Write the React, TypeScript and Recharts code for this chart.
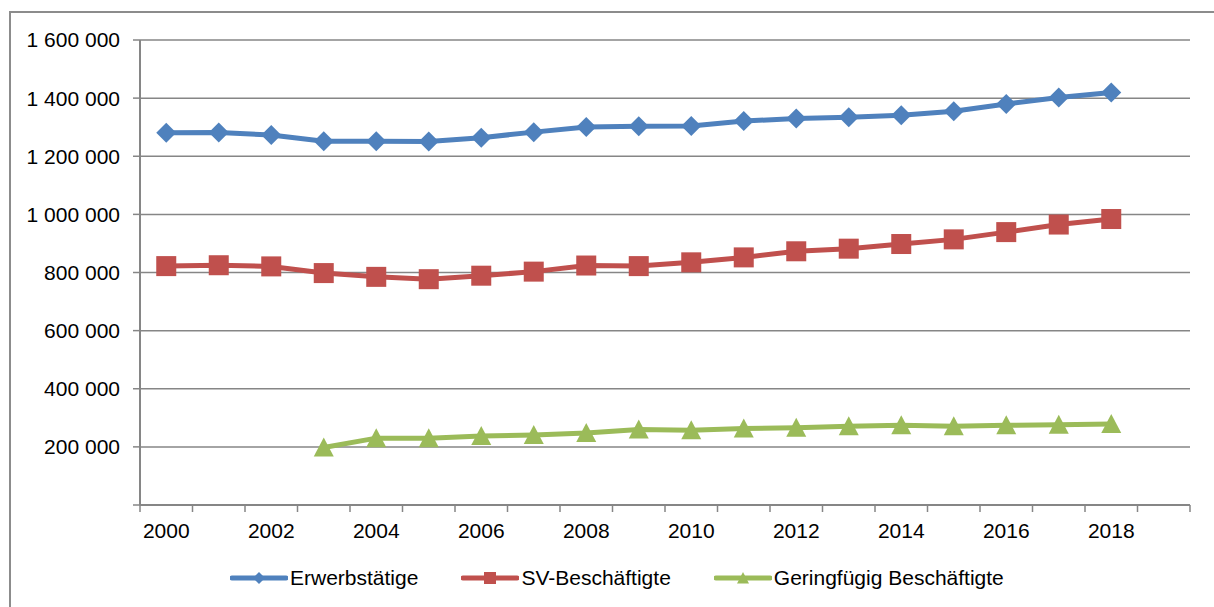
import { LineChart, Line, XAxis, YAxis, CartesianGrid } from 'recharts';

// Jahreswerte 2000–2018
const years = [
  2000, 2001, 2002, 2003, 2004, 2005, 2006, 2007, 2008, 2009,
  2010, 2011, 2012, 2013, 2014, 2015, 2016, 2017, 2018,
];
const erwerbstaetige = [
  1281000, 1282000, 1273000, 1252000, 1252000, 1251000, 1264000, 1283000, 1301000, 1303000,
  1304000, 1321000, 1330000, 1334000, 1341000, 1355000, 1380000, 1402000, 1419000,
];
const svBeschaeftigte = [
  822000, 825000, 821000, 798000, 785000, 777000, 789000, 803000, 824000, 822000,
  835000, 852000, 873000, 882000, 898000, 914000, 939000, 965000, 984000,
];
const geringfuegig = [
  null, null, null, 198000, 230000, 230000, 237000, 241000, 248000, 260000,
  257000, 263000, 266000, 271000, 274000, 271000, 274000, 276000, 279000,
];
const xLabels = ['2000', '2002', '2004', '2006', '2008', '2010', '2012', '2014', '2016', '2018'];
const yTicks = [0, 200000, 400000, 600000, 800000, 1000000, 1200000, 1400000, 1600000];

const COLORS = {
  erwerb: '#4F81BD',
  sv: '#C0504D',
  gering: '#9BBB59',
  axis: '#868686',
  frame: '#8C8C8C',
};

const FONT = 'Arial, "Liberation Sans", sans-serif';
const W = 1214;
const H = 607;
const PLOT_LEFT = 140;
const PLOT_RIGHT = 1190;
const X_START = years[0];
const X_END = years[years.length - 1] + 2; // one empty band at the end
const HALF_BAND = (PLOT_RIGHT - PLOT_LEFT) / (X_END - X_START) / 2;

const xTicks: number[] = [];
for (let y = X_START; y <= X_END; y++) xTicks.push(y);

// points sit in the middle of each year band
const data = years.map((year, i) => ({
  x: year + 0.5,
  erwerb: erwerbstaetige[i],
  sv: svBeschaeftigte[i],
  gering: geringfuegig[i],
}));

const fmt = (v: number) =>
  v === 0 ? '' : String(v).replace(/\B(?=(\d{3})+(?!\d))/g, ' ');

const XTick = (props: any) => {
  const { x, y, payload } = props;
  const label = String(payload.value);
  return (
    <g>
      <line x1={x} x2={x} y1={y} y2={y + 7} stroke={COLORS.axis} strokeWidth={1.5} />
      {xLabels.includes(label) && (
        <text x={x + HALF_BAND} y={y + 33} textAnchor="middle" fill="#000" fontSize={21} fontFamily={FONT}>
          {label}
        </text>
      )}
    </g>
  );
};

const Diamond = ({ cx, cy, r = 10, color }: any) => (
  <path d={`M${cx},${cy - r}L${cx + r},${cy}L${cx},${cy + r}L${cx - r},${cy}Z`} fill={color} />
);
const Square = ({ cx, cy, r = 10, color }: any) => (
  <rect x={cx - r} y={cy - r} width={r * 2} height={r * 2} fill={color} />
);
const Triangle = ({ cx, cy, r = 10, color }: any) => (
  <path d={`M${cx},${cy - r}L${cx + r},${cy + r * 0.9}L${cx - r},${cy + r * 0.9}Z`} fill={color} />
);

const makeDot = (Shape: any, color: string) => (p: any) => {
  if (p.cx == null || p.cy == null || p.value == null) return <g key={p.key} />;
  return <Shape key={p.key} cx={p.cx} cy={p.cy} color={color} />;
};

const legendItems = [
  { name: 'Erwerbstätige', color: COLORS.erwerb, Shape: Diamond, r: 6 },
  { name: 'SV-Beschäftigte', color: COLORS.sv, Shape: Square, r: 6 },
  { name: 'Geringfügig Beschäftigte', color: COLORS.gering, Shape: Triangle, r: 6 },
];

export default function App() {
  return (
    <div style={{ position: 'absolute', left: 0, top: 0, width: W, height: H, overflow: 'hidden', background: '#fff' }}>
      {/* Rahmen */}
      <div
        style={{
          position: 'absolute', left: 9, top: 11, width: W + 20, height: H + 20,
          borderLeft: `2px solid ${COLORS.frame}`, borderTop: `2px solid ${COLORS.frame}`,
        }}
      />
      <div style={{ position: 'absolute', left: 0, top: 0 }}>
        <LineChart width={W} height={H} data={data} margin={{ top: 40, right: W - PLOT_RIGHT, bottom: 72, left: 0 }}>
          <CartesianGrid vertical={false} stroke={COLORS.axis} strokeWidth={1.5} />
          <XAxis
            dataKey="x"
            type="number"
            domain={[X_START, X_END]}
            ticks={xTicks}
            interval={0}
            height={30}
            tickSize={0}
            tickMargin={0}
            tickLine={false}
            tick={<XTick />}
            axisLine={{ stroke: COLORS.axis, strokeWidth: 2 }}
          />
          <YAxis
            width={PLOT_LEFT}
            domain={[0, 1600000]}
            ticks={yTicks}
            interval={0}
            tickFormatter={fmt}
            tickSize={7}
            tickMargin={13}
            tickLine={{ stroke: COLORS.axis, strokeWidth: 1.5 }}
            axisLine={{ stroke: COLORS.axis, strokeWidth: 2 }}
            tick={{ fill: '#000', fontSize: 21, fontFamily: FONT }}
          />
          <Line dataKey="erwerb" stroke={COLORS.erwerb} strokeWidth={5} dot={makeDot(Diamond, COLORS.erwerb)} isAnimationActive={false} />
          <Line dataKey="sv" stroke={COLORS.sv} strokeWidth={5} dot={makeDot(Square, COLORS.sv)} isAnimationActive={false} />
          <Line dataKey="gering" stroke={COLORS.gering} strokeWidth={5} dot={makeDot(Triangle, COLORS.gering)} isAnimationActive={false} />
        </LineChart>
      </div>
      {/* Legende */}
      <div style={{ position: 'absolute', left: 230, top: 566, height: 24, display: 'flex', alignItems: 'center', gap: 43, fontFamily: FONT, fontSize: 21, color: '#000' }}>
        {legendItems.map(({ name, color, Shape, r }) => (
          <div key={name} style={{ display: 'flex', alignItems: 'center' }}>
            <svg width={58} height={24} style={{ marginRight: 2 }}>
              <line x1={2} x2={56} y1={12} y2={12} stroke={color} strokeWidth={5} strokeLinecap="round" />
              <Shape cx={29} cy={12} r={r} color={color} />
            </svg>
            <span style={{ lineHeight: '24px', whiteSpace: 'nowrap' }}>{name}</span>
          </div>
        ))}
      </div>
    </div>
  );
}
